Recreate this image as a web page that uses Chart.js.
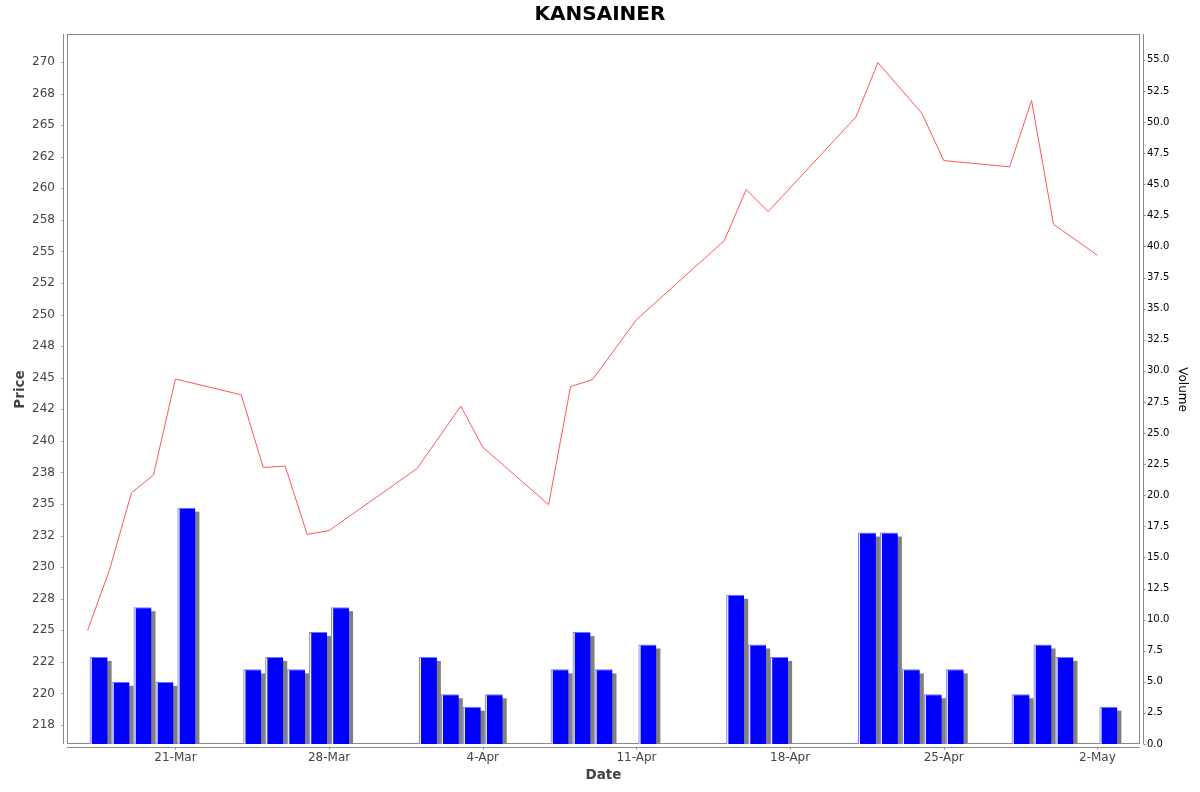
<!DOCTYPE html>
<html>
<head>
<meta charset="utf-8">
<title>KANSAINER</title>
<script src="https://cdn.jsdelivr.net/npm/chart.js@4.4.1/dist/chart.umd.min.js"></script>
<style>
  html, body { margin: 0; padding: 0; background: #ffffff; }
  #wrap { width: 1200px; height: 792px; position: relative; }
</style>
</head>
<body>
<div id="wrap"><canvas id="chart" width="1200" height="792"></canvas></div>
<script>
// ---------- data ----------
const chartTitle = 'KANSAINER';
const xAxisTitle = 'Date';
const priceAxisTitle = 'Price';
const volumeAxisTitle = 'Volume';

const priceDates = ['2025-03-17','2025-03-18','2025-03-19','2025-03-20','2025-03-21',
  '2025-03-24','2025-03-25','2025-03-26','2025-03-27','2025-03-28',
  '2025-04-01','2025-04-03','2025-04-04','2025-04-07','2025-04-08','2025-04-09',
  '2025-04-11','2025-04-15','2025-04-16','2025-04-17','2025-04-21','2025-04-22',
  '2025-04-24','2025-04-25','2025-04-28','2025-04-29','2025-04-30','2025-05-02'];
const priceValues = [225.0, 229.8, 235.9, 237.3, 244.9,
  243.65, 237.9, 238.0, 232.6, 232.9,
  237.8, 242.75, 239.5, 234.95, 244.3, 244.85,
  249.6, 255.85, 259.9, 258.15, 265.65, 269.95,
  265.95, 262.2, 261.7, 266.95, 257.15, 254.7];

const volumeDates = ['2025-03-17','2025-03-18','2025-03-19','2025-03-20','2025-03-21',
  '2025-03-24','2025-03-25','2025-03-26','2025-03-27','2025-03-28',
  '2025-04-01','2025-04-02','2025-04-03','2025-04-04',
  '2025-04-07','2025-04-08','2025-04-09','2025-04-11',
  '2025-04-15','2025-04-16','2025-04-17',
  '2025-04-21','2025-04-22','2025-04-23','2025-04-24','2025-04-25',
  '2025-04-28','2025-04-29','2025-04-30','2025-05-02'];
const volumeValues = [7, 5, 11, 5, 19,
  6, 7, 6, 9, 11,
  7, 4, 3, 4,
  6, 9, 6, 8,
  12, 8, 7,
  17, 17, 6, 4, 6,
  4, 8, 7, 3];

const xTickDates  = ['2025-03-21','2025-03-28','2025-04-04','2025-04-11','2025-04-18','2025-04-25','2025-05-02'];
const xTickLabels = ['21-Mar','28-Mar','4-Apr','11-Apr','18-Apr','25-Apr','2-May'];

const priceTickValues = [217.5,220,222.5,225,227.5,230,232.5,235,237.5,240,242.5,245,247.5,250,252.5,255,257.5,260,262.5,265,267.5,270];
const priceTickLabels = ['218','220','222','225','228','230','232','235','238','240','242','245','248','250','252','255','258','260','262','265','268','270'];

const volumeTickLabels = ['0.0','2.5','5.0','7.5','10.0','12.5','15.0','17.5','20.0','22.5','25.0','27.5','30.0','32.5','35.0','37.5','40.0','42.5','45.0','47.5','50.0','52.5','55.0'];
const volumeTickValues = volumeTickLabels.map(Number);

// ---------- helpers ----------
function dayNum(s) {
  const p = s.split('-').map(Number);
  return Date.UTC(p[0], p[1] - 1, p[2]) / 86400000;
}
const priceData = priceDates.map((d, i) => ({ x: dayNum(d), y: priceValues[i] }));
// each volume bar covers its whole trading-day period (centred in the day)
const volumeData = volumeDates.map((d, i) => ({ x: dayNum(d) + 0.5, y: volumeValues[i] }));
const xTickValues = xTickDates.map(dayNum);

const xMin = dayNum(volumeDates[0]) - 0.94;
const xMax = dayNum(volumeDates[volumeDates.length - 1]) + 1 + 0.94;

const AXIS_GRAY = '#8a8a8a';

const framePlugin = {
  id: 'frame',
  beforeDatasetsDraw(chart) {
    const { ctx, chartArea: a } = chart;
    ctx.save();
    ctx.strokeStyle = AXIS_GRAY;
    ctx.lineWidth = 1;
    ctx.strokeRect(a.left + 0.5, a.top - 0.5, a.right - a.left - 1, a.bottom - a.top);
    ctx.restore();
  },
  afterDraw(chart) {
    const { ctx, chartArea: a, scales } = chart;
    ctx.save();
    ctx.strokeStyle = AXIS_GRAY;
    ctx.lineWidth = 1;
    ctx.beginPath();
    const lx = a.left - 3.5;
    ctx.moveTo(lx, a.top - 1); ctx.lineTo(lx, a.bottom);
    scales.y.ticks.forEach(t => {
      const y = Math.round(scales.y.getPixelForValue(t.value)) + 0.5;
      ctx.moveTo(lx - 2, y); ctx.lineTo(lx, y);
    });
    const rx = a.right + 3.5;
    ctx.moveTo(rx, a.top - 1); ctx.lineTo(rx, a.bottom);
    scales.y1.ticks.forEach(t => {
      const y = Math.round(scales.y1.getPixelForValue(t.value)) + 0.5;
      ctx.moveTo(rx, y); ctx.lineTo(rx + 2, y);
    });
    const by = a.bottom + 3.5;
    ctx.moveTo(a.left, by); ctx.lineTo(a.right, by);
    scales.x.ticks.forEach(t => {
      const x = Math.round(scales.x.getPixelForValue(t.value)) + 0.5;
      ctx.moveTo(x, by); ctx.lineTo(x, by + 2);
    });
    ctx.stroke();
    ctx.restore();
  }
};

// gray drop shadow behind each bar and a white highlight stripe near its left edge,
// both taken from the bar elements the library has laid out
const barStylePlugin = {
  id: 'barStyle',
  beforeDatasetDraw(chart, args) {
    if (chart.data.datasets[args.index].type !== 'bar') return;
    const { ctx, chartArea: a } = chart;
    ctx.save();
    ctx.beginPath();
    ctx.rect(a.left, a.top, a.right - a.left, a.bottom - a.top);
    ctx.clip();
    ctx.fillStyle = '#808080';
    args.meta.data.forEach(el => {
      const p = el.getProps(['x', 'y', 'base', 'width'], true);
      ctx.fillRect(p.x - p.width / 2 + 4, p.y + 4, p.width, p.base - p.y);
    });
    ctx.restore();
  },
  afterDatasetDraw(chart, args) {
    if (chart.data.datasets[args.index].type !== 'bar') return;
    const { ctx } = chart;
    ctx.save();
    ctx.fillStyle = '#ffffff';
    args.meta.data.forEach(el => {
      const p = el.getProps(['x', 'y', 'base', 'width'], true);
      ctx.fillRect(p.x - p.width / 2 + 1, p.y + 1, 1, p.base - p.y - 1);
    });
    ctx.restore();
  }
};

const FONT = 'DejaVu Sans';

new Chart(document.getElementById('chart'), {
  type: 'bar',
  data: {
    datasets: [
      {
        type: 'line',
        label: 'Price',
        data: priceData,
        yAxisID: 'y',
        borderColor: 'rgb(255,85,85)',
        borderWidth: 1,
        pointRadius: 0,
        tension: 0,
        fill: false,
        order: 1
      },
      {
        type: 'bar',
        label: 'Volume',
        data: volumeData,
        yAxisID: 'y1',
        backgroundColor: '#0000ff',
        borderColor: '#7070ff',
        borderWidth: { left: 2, top: 1, right: 0, bottom: 0 },
        borderSkipped: false,
        categoryPercentage: 1.0,
        barPercentage: 0.82,
        clip: 0,
        order: 2
      }
    ]
  },
  options: {
    responsive: false,
    devicePixelRatio: 1,
    animation: false,
    events: [],
    layout: { padding: 0 },
    plugins: {
      legend: { display: false },
      tooltip: { enabled: false },
      title: {
        display: true,
        text: chartTitle,
        color: '#000000',
        font: { family: FONT, size: 20, weight: 'bold', lineHeight: 1.2 },
        padding: { top: 3, bottom: 8 }
      }
    },
    scales: {
      x: {
        type: 'linear',
        position: 'bottom',
        min: xMin,
        max: xMax,
        bounds: 'data',
        offset: false,
        afterBuildTicks: s => { s.ticks = xTickValues.map(v => ({ value: v })); },
        afterFit: s => { s.height = 48; },
        ticks: {
          autoSkip: false,
          maxRotation: 0,
          padding: 7,
          color: '#444444',
          font: { family: FONT, size: 12 },
          callback: v => xTickLabels[xTickValues.indexOf(v)]
        },
        grid: { display: false, drawTicks: false },
        border: { display: false },
        title: {
          display: true,
          text: xAxisTitle,
          color: '#444444',
          font: { family: FONT, size: 13.5, weight: 'bold' },
          padding: { top: 0, bottom: 8 }
        }
      },
      y: {
        type: 'linear',
        position: 'left',
        min: 216.0,
        max: 272.14,
        bounds: 'data',
        afterBuildTicks: s => { s.ticks = priceTickValues.map(v => ({ value: v })); },
        afterFit: s => { s.width = 67; },
        ticks: {
          autoSkip: false,
          padding: 12,
          color: '#444444',
          font: { family: FONT, size: 12 },
          callback: v => priceTickLabels[priceTickValues.indexOf(v)]
        },
        grid: { display: false, drawTicks: false },
        border: { display: false },
        title: {
          display: true,
          text: priceAxisTitle,
          color: '#444444',
          font: { family: FONT, size: 13.5, weight: 'bold' },
          padding: { top: 12, bottom: 0 }
        }
      },
      y1: {
        type: 'linear',
        position: 'right',
        min: 0,
        max: 57,
        bounds: 'data',
        afterBuildTicks: s => { s.ticks = volumeTickValues.map(v => ({ value: v })); },
        afterFit: s => { s.width = 60; },
        ticks: {
          autoSkip: false,
          padding: 7,
          color: '#000000',
          font: { family: FONT, size: 10 },
          callback: v => volumeTickLabels[volumeTickValues.indexOf(v)]
        },
        grid: { display: false, drawTicks: false },
        border: { display: false },
        title: {
          display: true,
          text: volumeAxisTitle,
          color: '#000000',
          font: { family: FONT, size: 12 },
          padding: { top: 11, bottom: 0 }
        }
      }
    }
  },
  plugins: [framePlugin, barStylePlugin]
});
</script>
</body>
</html>
